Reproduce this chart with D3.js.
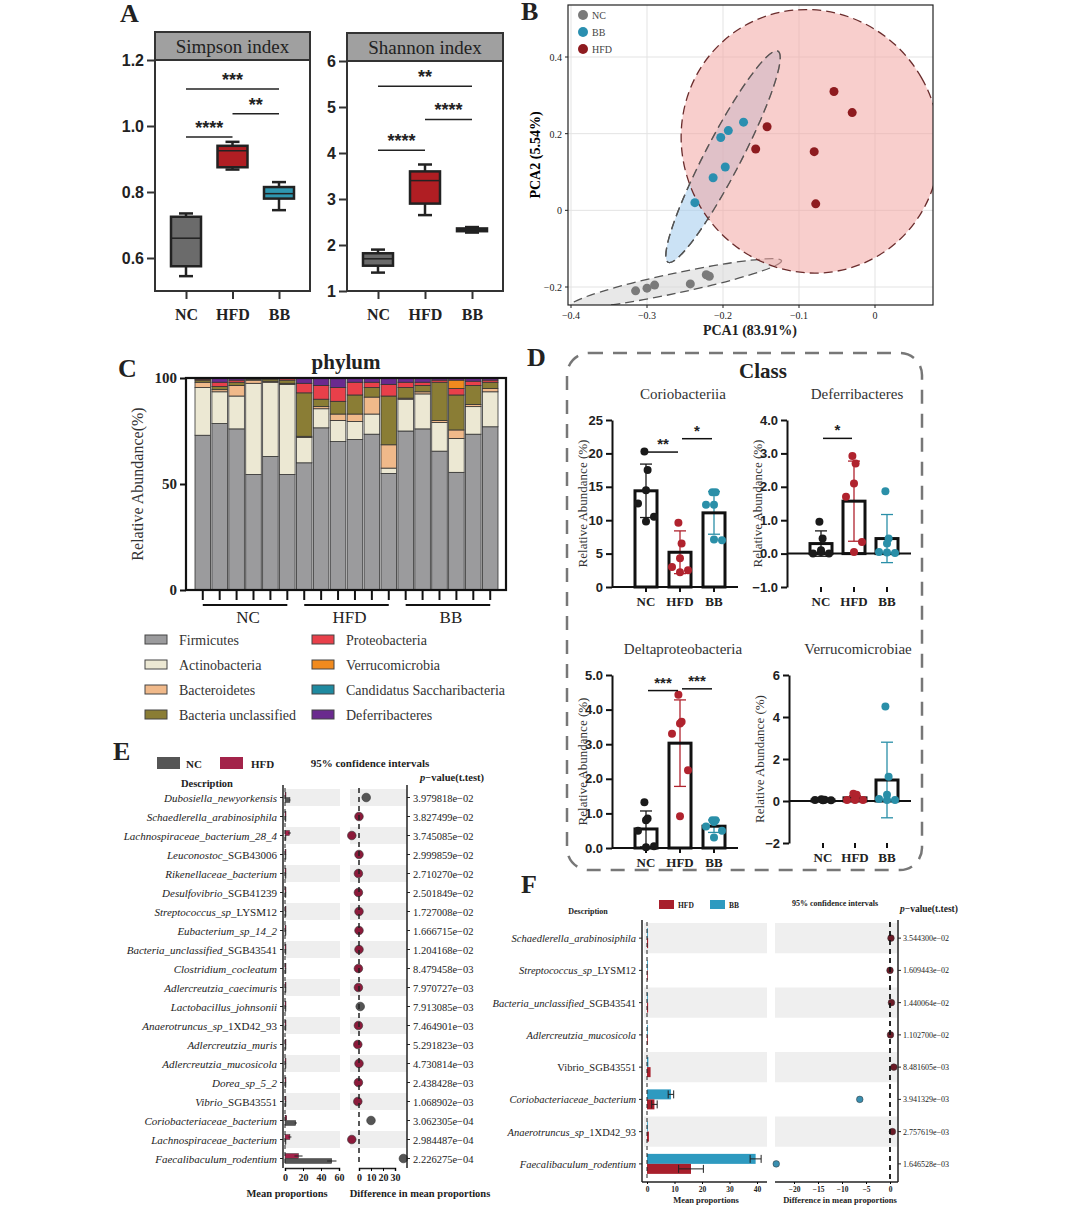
<!DOCTYPE html>
<html><head><meta charset="utf-8">
<script src="https://cdn.jsdelivr.net/npm/d3@7"></script>
<style>body{margin:0;background:#fff}svg{display:block}</style>
</head><body><svg id="c" width="1080" height="1223"></svg>
<script>
// ---------- DATA ----------
const groups = ["NC","HFD","BB"];
const simpsonBoxes = [[0.545,0.575,0.66,0.725,0.735],[0.868,0.875,0.925,0.94,0.952],[0.745,0.78,0.795,0.815,0.83]];
const shannonBoxes = [[1.4,1.55,1.7,1.82,1.9],[2.65,2.9,3.4,3.6,3.75],[2.27,2.3,2.33,2.36,2.39]];
const simpsonTicks = [0.6,0.8,1.0,1.2];
const shannonTicks = [1,2,3,4,5,6];
const simpsonSig = [[0,1,0.967,"****"],[1,2,1.037,"**"],[0,2,1.112,"***"]];
const shannonSig = [[0,1,4.06,"****"],[1,2,4.73,"****"],[0,2,5.45,"**"]];
const pcaNC = [[-0.315,-0.21],[-0.30,-0.203],[-0.29,-0.195],[-0.243,-0.192],[-0.222,-0.168],[-0.218,-0.172]];
const pcaBB = [[-0.237,0.02],[-0.213,0.085],[-0.197,0.113],[-0.203,0.19],[-0.193,0.208],[-0.173,0.23]];
const pcaHFD = [[-0.157,0.16],[-0.142,0.218],[-0.08,0.153],[-0.078,0.017],[-0.054,0.31],[-0.03,0.255]];
const pcaXTicks = [-0.4,-0.3,-0.2,-0.1,0];
const pcaYTicks = [-0.2,0,0.2,0.4];
const ellipseCentres = {NC:[-0.262,-0.19], BB:[-0.2,0.14], HFD:[-0.085,0.18]};
const phyla = ["Firmicutes","Actinobacteria","Bacteroidetes","Bacteria unclassified","Proteobacteria","Verrucomicrobia","Candidatus Saccharibacteria","Deferribacteres"];
const samples = ["NC1","NC2","NC3","NC4","NC5","NC6","HFD1","HFD2","HFD3","HFD4","HFD5","HFD6","BB1","BB2","BB3","BB4","BB5","BB6"];
const phylumValues = [
 [73,22.5,2.5,1,0.5,0,0,0.5],[78.5,15,1,1.5,2,0,0,2],[76,15.5,5,1.5,1,0,0,1],
 [54.5,43,1.5,0.5,0.3,0,0,0.2],[63,35,0.5,1,0.3,0,0,0.2],[54.5,42.5,0.5,1.5,0.7,0,0,0.3],
 [60,12,0.5,20.5,4.5,0,0,2.5],[76.5,9,1,3.5,6.5,0,0,3.5],[70,10,3,6,6.5,0,0,4.5],
 [71,8.5,3.5,9,6,0,0,2],[73.5,9.5,8,4.5,2.5,0,0,2],[55,2.5,11,23,5.5,0,0,3],
 [75,15,0.5,5,2.5,0,0,2],[76,16.5,1,3,1.5,0,0,2],[65.5,13.5,1,18,1,0,0,1],
 [55.5,16,4,16.5,3,4,0,1],[73.5,13,1,9,2,0,0,1.5],[77,16.5,1.5,3,1,0,0,1]];
const phylumTicks = [0,50,100];
const classPanels = [
 {title:"Coriobacteriia", dom:[0,25], ticks:[0,5,10,15,20,25], mean:[14.4,5.2,11.1], sd:[4,3.2,3.2],
  pts:[[20.3,17.5,14.5,12.5,10.5,9.8],[9.6,6.5,4.3,3,2.5,2.2],[14.2,14.2,12.3,12.3,7,7.1]],
  sig:[[0,1,20.2,"**"],[1,2,22.2,"*"]]},
 {title:"Deferribacteres", dom:[-1,4], ticks:[-1,0,1,2,3,4], mean:[0.3,1.57,0.45], sd:[0.38,1.2,0.72],
  pts:[[0.95,0.45,0.1,0,0,0.05],[2.92,2.7,2.1,1.7,0.35,0.05],[1.87,0.45,0.3,0.05,0.02,0.03]],
  sig:[[0,1,3.45,"*"]]},
 {title:"Deltaproteobacteria", dom:[0,5], ticks:[0,1,2,3,4,5], mean:[0.55,3.03,0.63], sd:[0.52,1.25,0.18],
  pts:[[1.32,0.85,0.8,0.5,0.05,0.02],[4.43,3.65,3.6,3.3,2.25,0.92],[0.8,0.8,0.75,0.62,0.5,0.3]],
  sig:[[0,1,4.55,"***"],[1,2,4.6,"***"]]},
 {title:"Verrucomicrobiae", dom:[-2,6], ticks:[-2,0,2,4,6], mean:[0.05,0.15,1.0], sd:[0.02,0.1,1.8],
  pts:[[0.08,0.06,0.05,0.05,0.04,0.03],[0.35,0.3,0.1,0.05,0.05,0.05],[4.5,1.15,0.3,0.1,0.05,0.05]],
  sig:[]}];
const eLabels = [["Dubosiella_newyorkensis",""],["Schaedlerella_arabinosiphila",""],["Lachnospiraceae_bacterium_28_4",""],["Leuconostoc","_SGB43006"],["Rikenellaceae_bacterium",""],["Desulfovibrio","_SGB41239"],["Streptococcus_sp","_LYSM12"],["Eubacterium_sp_14_2",""],["Bacteria_unclassified","_SGB43541"],["Clostridium_cocleatum",""],["Adlercreutzia_caecimuris",""],["Lactobacillus_johnsonii",""],["Anaerotruncus_sp","_1XD42_93"],["Adlercreutzia_muris",""],["Adlercreutzia_mucosicola",""],["Dorea_sp_5_2",""],["Vibrio","_SGB43551"],["Coriobacteriaceae_bacterium",""],["Lachnospiraceae_bacterium",""],["Faecalibaculum_rodentium",""]];
const eHFD = [0.3,0.2,5,0.1,0.3,0.3,0.2,0.3,0.3,0.3,0.6,0.2,0.5,0.3,0.4,0.3,1,2,5.5,15];
const eNC  = [5.5,0.1,0.5,0.5,0.1,0.1,0.1,0.2,0.1,0.1,0.2,0.6,0.1,0.1,0.1,0.1,0.3,12,0.5,52];
const eDiff = [6,0,-6,0,-0.5,-0.5,0,0,0,-0.5,-0.5,1,-0.5,-1,0,-0.5,-1,10,-6,37];
const eP = ["3.979818e−02","3.827499e−02","3.745085e−02","2.999859e−02","2.710270e−02","2.501849e−02","1.727008e−02","1.666715e−02","1.204168e−02","8.479458e−03","7.970727e−03","7.913085e−03","7.464901e−03","5.291823e−03","4.730814e−03","2.438428e−03","1.068902e−03","3.062305e−04","2.984487e−04","2.226275e−04"];
const fLabels = [["Schaedlerella_arabinosiphila",""],["Streptococcus_sp","_LYSM12"],["Bacteria_unclassified","_SGB43541"],["Adlercreutzia_mucosicola",""],["","Vibrio_SGB43551"],["Coriobacteriaceae_bacterium",""],["Anaerotruncus_sp","_1XD42_93"],["Faecalibaculum_rodentium",""]];
const fBB  = [0.2,0.1,0.1,0.1,0.5,8.7,0.2,39.5];
const fHFD = [0.4,0.1,0.4,0.3,1.3,2.7,0.7,16];
const fBBErr = [0,0,0,0,0,1,0,2];
const fHFDErr = [0,0,0,0,0,1,0,4.5];
const fDiff = [0.2,0,0.3,0.1,0.8,-6.3,0.5,-23.7];
const fP = ["3.544300e−02","1.609443e−02","1.440064e−02","1.102700e−02","8.481605e−03","3.941329e−03","2.757619e−03","1.646528e−03"];

// ---------- DRAW ----------
const svg = d3.select("#c");
const SERIF = "Liberation Serif, Times New Roman, serif";
const SANS = "Liberation Sans, Arial, sans-serif";
const txt = (x,y,s,o={}) => svg.append("text").attr("x",x).attr("y",y).text(s)
  .attr("font-family",o.f||SERIF).attr("font-size",o.s||12).attr("font-weight",o.w||"normal")
  .attr("font-style",o.i?"italic":"normal").attr("text-anchor",o.a||"start").attr("fill",o.c||"#222");
[["A",120,22],["B",521,20],["C",118,377],["D",527,366],["E",113,760],["F",521,893]].forEach(d=>txt(d[1],d[2],d[0],{s:26,w:"bold"}));

// ----- A -----
function boxPanel(x0,x1,top,bottom,dom,ticks,boxes,title,sig,fmt){
  const y = d3.scaleLinear().domain(dom).range([bottom,top+28]);
  const x = d3.scalePoint().domain(groups).range([x0+31,x1-31]);
  svg.append("rect").attr("x",x0).attr("y",top).attr("width",x1-x0).attr("height",28).attr("fill","#a0a0a0").attr("stroke","#333").attr("stroke-width",2);
  txt((x0+x1)/2,top+21,title,{s:19,a:"middle"});
  svg.append("rect").attr("x",x0).attr("y",top+28).attr("width",x1-x0).attr("height",bottom-top-28).attr("fill","none").attr("stroke","#333").attr("stroke-width",2);
  const ya = svg.append("g").attr("transform",`translate(${x0},0)`).call(d3.axisLeft(y).tickValues(ticks).tickFormat(fmt).tickSize(8).tickSizeOuter(0));
  ya.select(".domain").remove();
  ya.selectAll("line").attr("stroke","#333").attr("stroke-width",2);
  ya.selectAll("text").attr("font-family",SANS).attr("font-weight","bold").attr("font-size",16).attr("fill","#222");
  const xa = svg.append("g").attr("transform",`translate(0,${bottom})`).call(d3.axisBottom(x).tickSize(8).tickSizeOuter(0));
  xa.select(".domain").remove(); xa.selectAll("line").attr("stroke","#333").attr("stroke-width",2);
  xa.selectAll("text").attr("font-family",SERIF).attr("font-weight","bold").attr("font-size",16).attr("fill","#222").attr("dy","1.1em");
  const cols = ["#6b6b6b","#b01e23","#2f97b0"];
  boxes.forEach((b,i)=>{
    const cx = x(groups[i]), w=30;
    const g = svg.append("g").attr("stroke","#222").attr("stroke-width",2.5);
    g.append("line").attr("x1",cx).attr("x2",cx).attr("y1",y(b[0])).attr("y2",y(b[4]));
    g.append("line").attr("x1",cx-7).attr("x2",cx+7).attr("y1",y(b[0])).attr("y2",y(b[0]));
    g.append("line").attr("x1",cx-7).attr("x2",cx+7).attr("y1",y(b[4])).attr("y2",y(b[4]));
    g.append("rect").attr("x",cx-w/2).attr("width",w).attr("y",y(b[3])).attr("height",Math.max(2,y(b[1])-y(b[3]))).attr("fill",cols[i]);
    g.append("line").attr("x1",cx-w/2).attr("x2",cx+w/2).attr("y1",y(b[2])).attr("y2",y(b[2])).attr("stroke-width",1.5);
  });
  sig.forEach(s=>{
    svg.append("line").attr("x1",x(groups[s[0]])).attr("x2",x(groups[s[1]])).attr("y1",y(s[2])).attr("y2",y(s[2])).attr("stroke","#222").attr("stroke-width",1.5);
    txt((x(groups[s[0]])+x(groups[s[1]]))/2,y(s[2])-3,s[3],{f:SANS,s:18,w:"bold",a:"middle"});
  });
}
boxPanel(155,310,32,291,[0.5,1.2],simpsonTicks,simpsonBoxes,"Simpson index",simpsonSig,d3.format(".1f"));
boxPanel(347,503,33,291,[1,6],shannonTicks,shannonBoxes,"Shannon index",shannonSig,d3.format("d"));

// ----- B -----
{
 const x = d3.scaleLinear().domain([-0.4,0]).range([571,875]);
 const y = d3.scaleLinear().domain([-0.2,0.4]).range([287,57]);
 const L=568,R=933,T=5,B=305;
 svg.append("defs").append("clipPath").attr("id","pc").append("rect").attr("x",L).attr("y",T).attr("width",R-L).attr("height",B-T);
 const g = svg.append("g").attr("clip-path","url(#pc)");
 pcaXTicks.forEach(t=>g.append("line").attr("x1",x(t)).attr("x2",x(t)).attr("y1",T).attr("y2",B).attr("stroke","#e3e3e3"));
 pcaYTicks.forEach(t=>g.append("line").attr("y1",y(t)).attr("y2",y(t)).attr("x1",L).attr("x2",R).attr("stroke","#e3e3e3"));
 const ell = (c,rx,ry,ang,fill,op)=>g.append("ellipse").attr("cx",0).attr("cy",0).attr("rx",rx).attr("ry",ry)
   .attr("transform",`translate(${x(c[0])},${y(c[1])}) rotate(${ang})`).attr("fill",fill).attr("fill-opacity",op)
   .attr("stroke","#555").attr("stroke-width",1.3).attr("stroke-dasharray","9,5");
 ell(ellipseCentres.NC,108,10,-12,"#d9d9d9",0.6);
 ell(ellipseCentres.BB,119,18,-62.5,"#a9cfee",0.6);
 ell(ellipseCentres.HFD,128,133,-30,"#f2a5a3",0.55).attr("stroke","#6a2c2c");
 ell(ellipseCentres.BB,119,18,-62.5,"none",1);
 [[pcaNC,"#7a7a7a"],[pcaBB,"#2a8fb0"],[pcaHFD,"#8e1b1f"]].forEach(([p,c])=>p.forEach(d=>g.append("circle").attr("cx",x(d[0])).attr("cy",y(d[1])).attr("r",4.5).attr("fill",c)));
 svg.append("rect").attr("x",L).attr("y",T).attr("width",R-L).attr("height",B-T).attr("fill","none").attr("stroke","#222").attr("stroke-width",1.2);
 pcaXTicks.forEach(t=>{svg.append("line").attr("x1",x(t)).attr("x2",x(t)).attr("y1",B).attr("y2",B+3).attr("stroke","#222");txt(x(t),B+14,t===0?"0":d3.format(".1f")(t),{s:10,a:"middle"});});
 pcaYTicks.forEach(t=>{svg.append("line").attr("x1",L-3).attr("x2",L).attr("y1",y(t)).attr("y2",y(t)).attr("stroke","#222");txt(L-6,y(t)+4,t===0?"0":d3.format(".1f")(t),{s:10,a:"end"});});
 txt(750,335,"PCA1 (83.91%)",{s:14,w:"bold",a:"middle"});
 svg.append("text").attr("transform","translate(540,155) rotate(-90)").attr("text-anchor","middle").attr("font-family",SERIF).attr("font-weight","bold").attr("font-size",14).text("PCA2 (5.54%)");
 [["NC","#7a7a7a"],["BB","#2a8fb0"],["HFD","#8e1b1f"]].forEach((d,i)=>{svg.append("circle").attr("cx",583).attr("cy",15+i*17).attr("r",5).attr("fill",d[1]);txt(592,19+i*17,d[0],{s:10,c:"#444"});});
}

// ----- C -----
{
 const cols = ["#9b9b9d","#ece8d3","#f0b98a","#8a7d35","#e8404a","#f08a1e","#1f8aa0","#6a2a8e"];
 const x = d3.scaleBand().domain(samples).range([195,498]).paddingInner(0.08);
 const y = d3.scaleLinear().domain([0,100]).range([590,378]);
 const stack = d3.stack().keys(d3.range(phyla.length))(phylumValues);
 stack.forEach((layer,k)=>layer.forEach((d,i)=>{
   const top=Math.min(d[1],100);
   if(top-d[0]<=0) return;
   svg.append("rect").attr("x",x(samples[i])).attr("width",x.bandwidth()).attr("y",y(top)).attr("height",y(d[0])-y(top)).attr("fill",cols[k]).attr("stroke","#333").attr("stroke-width",0.8);
 }));
 svg.append("rect").attr("x",186).attr("y",378).attr("width",320).attr("height",212).attr("fill","none").attr("stroke","#111").attr("stroke-width",2.2);
 const ya = svg.append("g").attr("transform","translate(186,0)").call(d3.axisLeft(y).tickValues(phylumTicks).tickSize(6));
 ya.select(".domain").remove(); ya.selectAll("line").attr("stroke","#111").attr("stroke-width",2);
 ya.selectAll("text").attr("font-family",SERIF).attr("font-weight","bold").attr("font-size",15).attr("fill","#222");
 samples.forEach(s=>svg.append("line").attr("x1",x(s)+x.bandwidth()/2).attr("x2",x(s)+x.bandwidth()/2).attr("y1",590).attr("y2",600).attr("stroke","#111").attr("stroke-width",2));
 groups.forEach((g,gi)=>{
   const a=x(samples[gi*6])+x.bandwidth()/2, b=x(samples[gi*6+5])+x.bandwidth()/2;
   svg.append("line").attr("x1",a).attr("x2",b).attr("y1",605).attr("y2",605).attr("stroke","#111").attr("stroke-width",2);
   txt((a+b)/2+3,623,g,{s:17,a:"middle"});
 });
 txt(346,369,"phylum",{s:21,w:"bold",a:"middle"});
 svg.append("text").attr("transform","translate(143,484) rotate(-90)").attr("text-anchor","middle").attr("font-family",SERIF).attr("font-size",16).attr("fill","#333").text("Relative Abundance(%)");
 phyla.forEach((p,i)=>{
   const cx = i<4?145:312, cy = 635+(i%4)*25;
   svg.append("rect").attr("x",cx).attr("y",cy).attr("width",22).attr("height",9).attr("fill",cols[i]).attr("stroke","#444").attr("stroke-width",1);
   txt(cx+34,cy+10,p,{s:14,c:"#333"});
 });
}

// ----- D -----
{
 svg.append("rect").attr("x",567).attr("y",353).attr("width",355).attr("height",517).attr("rx",22).attr("fill","none").attr("stroke","#777").attr("stroke-width",2.5).attr("stroke-dasharray","14,10");
 txt(763,378,"Class",{s:21,w:"bold",a:"middle"});
 const cols = ["#1a1a1a","#b0232e","#2a8fa8"];
 const pos = [[612,738,420,587],[787,911,420,587],[612,738,675,848],[789,911,675,843]];
 classPanels.forEach((p,pi)=>{
   const [L,R,T,B] = pos[pi];
   const y = d3.scaleLinear().domain(p.dom).range([B,T]);
   const x = d3.scalePoint().domain(groups).range([L+34,R-24]);
   txt((L+R)/2+8,T-21,p.title,{s:15,a:"middle",c:"#333"});
   const ya = svg.append("g").attr("transform",`translate(${L},0)`).call(d3.axisLeft(y).tickValues(p.ticks).tickSize(6).tickSizeOuter(0));
   ya.select(".domain").attr("stroke","#111").attr("stroke-width",2);
   ya.selectAll("line").attr("stroke","#111").attr("stroke-width",2);
   ya.selectAll("text").attr("font-family",SANS).attr("font-weight","bold").attr("font-size",13).attr("fill","#222");
   const y0 = y(Math.max(0,p.dom[0]));
   svg.append("line").attr("x1",L).attr("x2",R).attr("y1",y0).attr("y2",y0).attr("stroke","#111").attr("stroke-width",2);
   groups.forEach((g,i)=>{
     const cx=x(g);
     svg.append("line").attr("x1",cx).attr("x2",cx).attr("y1",B).attr("y2",B+5).attr("stroke","#111").attr("stroke-width",2);
     txt(cx,B+19,g,{s:13,w:"bold",a:"middle"});
     svg.append("line").attr("x1",cx).attr("x2",cx).attr("y1",y(p.mean[i]-p.sd[i])).attr("y2",y(p.mean[i]+p.sd[i])).attr("stroke",cols[i]).attr("stroke-width",1.3);
     [p.mean[i]-p.sd[i],p.mean[i]+p.sd[i]].forEach(v=>svg.append("line").attr("x1",cx-6).attr("x2",cx+6).attr("y1",y(v)).attr("y2",y(v)).attr("stroke",cols[i]).attr("stroke-width",1.3));
     svg.append("rect").attr("x",cx-11).attr("width",22).attr("y",y(p.mean[i])).attr("height",Math.max(0,y0-y(p.mean[i]))).attr("fill","none").attr("stroke","#111").attr("stroke-width",3);
     const offs=[-8,8,0,-8,8,0];
     p.pts[i].forEach((v,k)=>svg.append("circle").attr("cx",cx+offs[k]*(k<2?0.2:1)).attr("cy",y(v)).attr("r",4).attr("fill",cols[i]));
   });
   p.sig.forEach(s=>{
     svg.append("line").attr("x1",x(groups[s[0]])+2).attr("x2",x(groups[s[1]])-2).attr("y1",y(s[2])).attr("y2",y(s[2])).attr("stroke","#111").attr("stroke-width",1.5);
     txt((x(groups[s[0]])+x(groups[s[1]]))/2,y(s[2])-3,s[3],{f:SANS,s:15,w:"bold",a:"middle"});
   });
   svg.append("text").attr("transform",`translate(${L-25},${(T+B)/2}) rotate(-90)`).attr("text-anchor","middle").attr("font-family",SERIF).attr("font-size",13).attr("fill","#333").text("Relative Abundance (%)");
 });
}

function label(x,y,parts,size){
  const t = svg.append("text").attr("x",x).attr("y",y).attr("text-anchor","end").attr("font-family",SERIF).attr("font-size",size).attr("fill","#222");
  if(parts[0]) t.append("tspan").attr("font-style","italic").text(parts[0]);
  if(parts[1]) t.append("tspan").text(parts[1]);
}

// ----- E -----
{
 const rows = d3.scaleBand().domain(d3.range(eLabels.length)).range([788,1168]);
 const xm = d3.scaleLinear().domain([0,60]).range([285,339]);
 const xd = d3.scaleLinear().domain([0,30]).range([359,395]);
 eLabels.forEach((l,i)=>{
   const yc = rows(i)+rows.bandwidth()/2;
   if(i%2===0){svg.append("rect").attr("x",285).attr("y",rows(i)+1).attr("width",55).attr("height",rows.bandwidth()-2).attr("fill","#eeeeee");
               svg.append("rect").attr("x",350).attr("y",rows(i)+1).attr("width",57).attr("height",rows.bandwidth()-2).attr("fill","#eeeeee");}
   label(277,yc+4,l,11);
   svg.append("line").attr("x1",280).attr("x2",283).attr("y1",yc).attr("y2",yc).attr("stroke","#222");
   svg.append("rect").attr("x",xm(0)).attr("y",yc-5).attr("width",Math.max(1,xm(eHFD[i])-xm(0))).attr("height",5).attr("fill","#a3234a").attr("stroke","#222").attr("stroke-width",0.4);
   svg.append("rect").attr("x",xm(0)).attr("y",yc).attr("width",Math.max(1,xm(eNC[i])-xm(0))).attr("height",5).attr("fill","#555").attr("stroke","#222").attr("stroke-width",0.4);
   if(eNC[i]>3) svg.append("line").attr("x1",xm(eNC[i]*0.9)).attr("x2",xm(eNC[i]*1.1)).attr("y1",yc+2.5).attr("y2",yc+2.5).attr("stroke","#222");
   if(eHFD[i]>3) svg.append("line").attr("x1",xm(eHFD[i]*0.7)).attr("x2",xm(eHFD[i]*1.3)).attr("y1",yc-2.5).attr("y2",yc-2.5).attr("stroke","#222");
   svg.append("circle").attr("cx",xd(eDiff[i])).attr("cy",yc).attr("r",4.3).attr("fill",eDiff[i]>0?"#555":"#8b1a3a").attr("stroke","#333").attr("stroke-width",0.6);
   svg.append("line").attr("x1",407).attr("x2",410).attr("y1",yc).attr("y2",yc).attr("stroke","#222");
   txt(413,yc+4,eP[i],{s:10.5});
 });
 svg.append("line").attr("x1",xd(0)).attr("x2",xd(0)).attr("y1",788).attr("y2",1166).attr("stroke","#222").attr("stroke-width",1.5).attr("stroke-dasharray","5,4");
 svg.append("line").attr("x1",xm(0)).attr("x2",xm(0)).attr("y1",788).attr("y2",1166).attr("stroke","#222").attr("stroke-dasharray","4,3");
 [283,407].forEach(xx=>svg.append("line").attr("x1",xx).attr("x2",xx).attr("y1",785).attr("y2",1168).attr("stroke","#222").attr("stroke-width",1.5));
 const ax1 = svg.append("g").attr("transform","translate(0,1168)").call(d3.axisBottom(xm).tickValues([0,20,40,60]).tickSize(3));
 const ax2 = svg.append("g").attr("transform","translate(0,1168)").call(d3.axisBottom(xd).tickValues([0,10,20,30]).tickSize(3));
 [ax1,ax2].forEach(a=>{a.select(".domain").attr("stroke","#222").attr("stroke-width",1.5);a.selectAll("text").attr("font-family",SERIF).attr("font-weight","bold").attr("font-size",10).attr("fill","#222");});
 txt(287,1197,"Mean proportions",{s:10.5,w:"bold",a:"middle"});
 txt(420,1197,"Difference in mean proportions",{s:10.5,w:"bold",a:"middle"});
 svg.append("rect").attr("x",157).attr("y",757).attr("width",23).attr("height",12).attr("fill","#555");
 txt(186,768,"NC",{s:11,w:"bold"});
 svg.append("rect").attr("x",220).attr("y",757).attr("width",23).attr("height",12).attr("fill","#a3234a");
 txt(251,768,"HFD",{s:11,w:"bold"});
 txt(370,767,"95% confidence intervals",{s:11,w:"bold",a:"middle"});
 txt(207,787,"Description",{s:10.5,w:"bold",a:"middle"});
 const pt = svg.append("text").attr("x",452).attr("y",781).attr("text-anchor","middle").attr("font-family",SERIF).attr("font-size",10.5).attr("font-weight","bold").attr("fill","#222");
 pt.append("tspan").attr("font-style","italic").text("p");
 pt.append("tspan").text("−value(t.test)");
}

// ----- F -----
{
 const rows = d3.scaleBand().domain(d3.range(fLabels.length)).range([922,1180]);
 const xm = d3.scaleLinear().domain([0,40]).range([647,757]);
 const xd = d3.scaleLinear().domain([-20,0]).range([794,890]);
 fLabels.forEach((l,i)=>{
   const yc = rows(i)+rows.bandwidth()/2;
   if(i%2===0){svg.append("rect").attr("x",644).attr("y",rows(i)+1).attr("width",123).attr("height",rows.bandwidth()-2).attr("fill","#efefef");
               svg.append("rect").attr("x",775).attr("y",rows(i)+1).attr("width",122).attr("height",rows.bandwidth()-2).attr("fill","#efefef");}
   label(636,yc+4,l,10.5);
   svg.append("line").attr("x1",639).attr("x2",642).attr("y1",yc).attr("y2",yc).attr("stroke","#222");
   svg.append("rect").attr("x",xm(0)).attr("y",yc-10).attr("width",Math.max(0.8,xm(fBB[i])-xm(0))).attr("height",10).attr("fill","#2e9ac0");
   svg.append("rect").attr("x",xm(0)).attr("y",yc).attr("width",Math.max(0.8,xm(fHFD[i])-xm(0))).attr("height",10).attr("fill","#a81f2c");
   [[fBB[i],fBBErr[i],yc-5],[fHFD[i],fHFDErr[i],yc+5]].forEach(([v,e,yy])=>{ if(e>0){
     svg.append("line").attr("x1",xm(v-e)).attr("x2",xm(v+e)).attr("y1",yy).attr("y2",yy).attr("stroke","#222");
     [v-e,v+e].forEach(t=>svg.append("line").attr("x1",xm(t)).attr("x2",xm(t)).attr("y1",yy-4).attr("y2",yy+4).attr("stroke","#222"));}});
   svg.append("circle").attr("cx",xd(fDiff[i])).attr("cy",yc).attr("r",3.3).attr("fill",fDiff[i]<0?"#3a8fb0":"#6b1a26").attr("stroke","#333").attr("stroke-width",0.5);
   svg.append("line").attr("x1",898).attr("x2",901).attr("y1",yc).attr("y2",yc).attr("stroke","#222");
   txt(903,yc+3,fP[i],{s:8});
 });
 svg.append("line").attr("x1",xd(0)).attr("x2",xd(0)).attr("y1",922).attr("y2",1180).attr("stroke","#111").attr("stroke-width",1.8).attr("stroke-dasharray","5,4");
 svg.append("line").attr("x1",xm(0)).attr("x2",xm(0)).attr("y1",922).attr("y2",1180).attr("stroke","#222").attr("stroke-dasharray","4,3");
 [642,898].forEach(xx=>svg.append("line").attr("x1",xx).attr("x2",xx).attr("y1",920).attr("y2",1182).attr("stroke","#222").attr("stroke-width",1.5));
 const ax1 = svg.append("g").attr("transform","translate(0,1182)").call(d3.axisBottom(xm).tickValues([0,10,20,30,40]).tickSize(2).tickSizeOuter(0));
 const ax2 = svg.append("g").attr("transform","translate(0,1182)").call(d3.axisBottom(xd).tickValues([-20,-15,-10,-5,0]).tickFormat(d=>d===0?"0":"−"+(-d)).tickSize(2).tickSizeOuter(0));
 ax1.select(".domain").attr("d","M642,0H767");
 ax2.select(".domain").attr("d","M775,0H898");
 [ax1,ax2].forEach(a=>{a.select(".domain").attr("stroke","#222").attr("stroke-width",1.5);a.selectAll("text").attr("font-family",SERIF).attr("font-weight","bold").attr("font-size",7.5).attr("fill","#222");});
 txt(706,1203,"Mean proportions",{s:8.5,w:"bold",a:"middle"});
 txt(840,1203,"Difference in mean proportions",{s:8.5,w:"bold",a:"middle"});
 svg.append("rect").attr("x",659).attr("y",900).attr("width",15).attr("height",9).attr("fill","#a81f2c");
 txt(678,908,"HFD",{s:7.5,w:"bold"});
 svg.append("rect").attr("x",710).attr("y",900).attr("width",15).attr("height",9).attr("fill","#2e9ac0");
 txt(729,908,"BB",{s:7.5,w:"bold"});
 txt(835,906,"95% confidence intervals",{s:8,w:"bold",a:"middle"});
 txt(588,914,"Description",{s:8,w:"bold",a:"middle"});
 const pt = svg.append("text").attr("x",929).attr("y",912).attr("text-anchor","middle").attr("font-family",SERIF).attr("font-size",9.5).attr("font-weight","bold").attr("fill","#222");
 pt.append("tspan").attr("font-style","italic").text("p");
 pt.append("tspan").text("−value(t.test)");
}
</script>
</body></html>
